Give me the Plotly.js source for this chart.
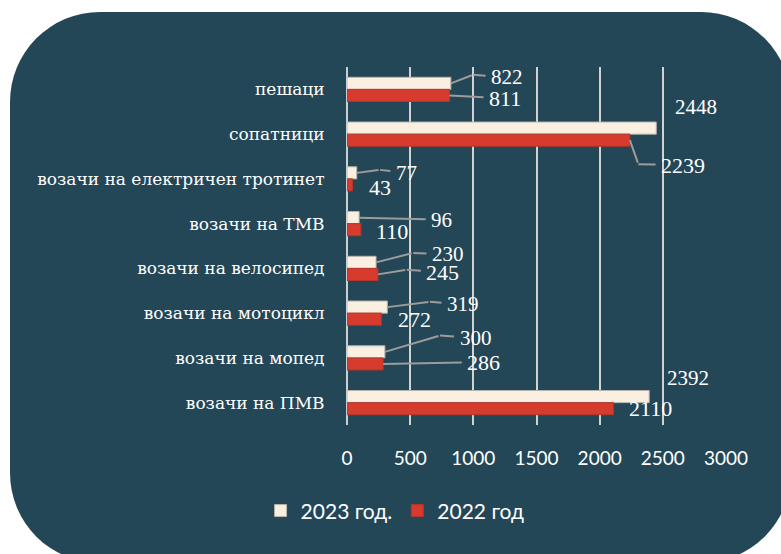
<!DOCTYPE html>
<html><head><meta charset="utf-8">
<script src="https://cdn.plot.ly/plotly-3.0.1.min.js"></script>
<style>
html,body{margin:0;padding:0;background:#ffffff;width:781px;height:554px;overflow:hidden;}
#bg{position:absolute;left:10px;top:12px;width:781px;height:551px;background:#244757;border-radius:90px;}
#chart{position:absolute;left:0;top:0;width:781px;height:554px;}
</style></head><body>
<div id="bg"></div><div id="chart"></div>
<script>
// ---- data ----
const categories = ['пешаци','сопатници','возачи на електричен тротинет','возачи на ТМВ','возачи на велосипед','возачи на мотоцикл','возачи на мопед','возачи на ПМВ'];
const values2023 = [822, 2448, 77, 96, 230, 319, 300, 2392];
const values2022 = [811, 2239, 43, 110, 245, 272, 286, 2110];
const seriesNames = ['2023 год.', '2022 год'];
const xTickVals = [0, 500, 1000, 1500, 2000, 2500, 3000];
const xTickText = ['0', '500', '1000', '1500', '2000', '2500', '3000'];

// ---- label placement (pixel offsets from bar end; styling only) ----
const place2023 = [
  {e:[22.5,-8.7], t:[56.2,-6]},
  {t:[40.2,-20.7]},
  {e:[23.3,-3], t:[49.6,0]},
  {s:true, t:[82.6,2]},
  {e:[37.2,-9.5], t:[71.9,-8]},
  {e:[42.7,-5.3], t:[75.7,-3]},
  {e:[55.1,-16.3], t:[90.6,-14]},
  {t:[39.1,-19]}
];
const place2022 = [
  {s:true, t:[55.6,3]},
  {e:[8.5,24], t:[53.2,25]},
  {t:[27.9,2.3]},
  {t:[31.4,1.7]},
  {e:[28.7,-4.7], t:[65,-2]},
  {t:[33.3,0.7]},
  {s:true, t:[100.6,-1.7]},
  {t:[37.2,0]}
];

const cream = '#FAF0E2', red = '#D63B2D';
const lineCol = '#9c9c9c';
const labelFont = 'Liberation Serif, Times New Roman, serif';

const traces = [
  {type:'bar', orientation:'h', name:seriesNames[0], y:categories, x:values2023,
   marker:{color:cream, line:{color:'#b9b4ab', width:1}}, hoverinfo:'skip'},
  {type:'bar', orientation:'h', name:seriesNames[1], y:categories, x:values2022,
   marker:{color:red, line:{color:'#b8342a', width:1}}, hoverinfo:'skip'}
];

const annotations = [];
function addLabels(vals, places, barShift, fsize){
  vals.forEach((v, i) => {
    const p = places[i];
    const base = {x:v, y:categories[i], xref:'x', yref:'y',
      font:{family:labelFont, size:fsize, color:'#ffffff'}};
    if (p.e) {
      annotations.push(Object.assign({}, base, {text:'', showarrow:true, arrowhead:0,
        arrowwidth:2, arrowcolor:lineCol, ax:p.e[0], ay:p.e[1], axref:'pixel', ayref:'pixel',
        yshift:barShift, standoff:0, startstandoff:0}));
      annotations.push(Object.assign({}, base, {text:String(v), showarrow:true, arrowhead:0,
        arrowwidth:2, arrowcolor:lineCol, ax:p.t[0]-p.e[0], ay:p.t[1]-p.e[1],
        axref:'pixel', ayref:'pixel', xshift:p.e[0], yshift:barShift - p.e[1], borderpad:5}));
    } else if (p.s) {
      annotations.push(Object.assign({}, base, {text:String(v), showarrow:true, arrowhead:0,
        arrowwidth:2, arrowcolor:lineCol, ax:p.t[0], ay:p.t[1], axref:'pixel', ayref:'pixel',
        yshift:barShift, borderpad:5}));
    } else {
      annotations.push(Object.assign({}, base, {text:String(v), showarrow:false,
        xshift:p.t[0], yshift:barShift - p.t[1], xanchor:'center', yanchor:'middle'}));
    }
  });
}
addLabels(values2023, place2023, 6, 21);
addLabels(values2022, place2022, -6, 22);

const layout = {
  width:781, height:554,
  paper_bgcolor:'rgba(0,0,0,0)', plot_bgcolor:'rgba(0,0,0,0)',
  margin:{l:347, r:55, t:67, b:129},
  barmode:'group', bargap:0.46, bargroupgap:0,
  showlegend:true,
  legend:{orientation:'h', x:-0.228, xanchor:'left', y:-0.24, yanchor:'middle',
    font:{family:'Lato, Open Sans, sans-serif', size:21, color:'#ffffff'},
    bgcolor:'rgba(0,0,0,0)', traceorder:'normal'},
  xaxis:{range:[0,3000], autorange:false, tickvals:xTickVals, ticktext:xTickText, showgrid:true,
    gridcolor:'#d2d2d2', gridwidth:2, zeroline:true, zerolinecolor:'#c9d0d4', zerolinewidth:2,
    showline:false, ticks:'outside', ticklen:16, tickcolor:'rgba(0,0,0,0)',
    tickfont:{family:'Lato, Open Sans, sans-serif', size:19, color:'#ffffff'}, fixedrange:true},
  yaxis:{type:'category', range:[7.5,-0.5], autorange:false, showgrid:false, zeroline:false, showline:false,
    ticks:'outside', ticklen:18, tickcolor:'rgba(0,0,0,0)',
    tickfont:{family:'DejaVu Serif, serif', size:17, color:'#ffffff'}, fixedrange:true},
  annotations:annotations
};

Plotly.newPlot('chart', traces, layout, {staticPlot:true, displayModeBar:false});
</script>
</body></html>
